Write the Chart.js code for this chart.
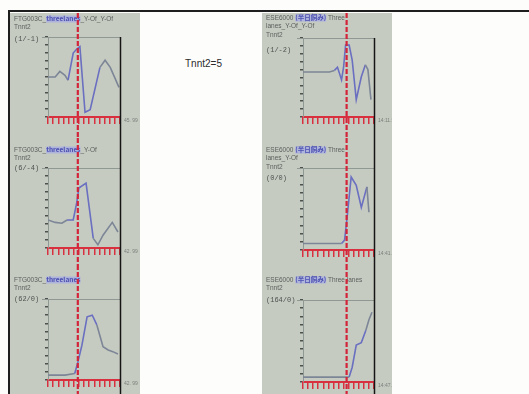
<!DOCTYPE html>
<html>
<head>
<meta charset="utf-8">
<script src="https://cdn.jsdelivr.net/npm/chart.js@4.4.1/dist/chart.umd.min.js"></script>
<style>
  body { margin: 0; width: 529px; height: 394px; overflow: hidden; position: relative; background: #fdfdfc; font-family: "Liberation Sans", Arial, sans-serif; }
  .frame { position: absolute; left: 8px; top: 10px; right: 0; bottom: 0; border-top: 2px solid #1e1e1e; border-left: 2px solid #1e1e1e; }
  .col { position: absolute; top: 13px; width: 130px; height: 381px; background: #c6cbc2; }
  .panel { position: absolute; width: 130px; }
  #note { position: absolute; left: 185px; top: 58px; font-size: 10px; color: #2c2c2c; }
</style>
</head>
<body>
<div class="frame"></div>
<div class="col" style="left:10px"></div>
<div class="col" style="left:262px"></div>
<div id="note">Tnnt2=5</div>

<div class="panel" style="left:10px;top:13px;height:125px"><canvas id="chartA"></canvas></div>
<div class="panel" style="left:10px;top:138px;height:127px"><canvas id="chartB"></canvas></div>
<div class="panel" style="left:10px;top:265px;height:129px"><canvas id="chartC"></canvas></div>
<div class="panel" style="left:262px;top:13px;height:125px"><canvas id="chartD"></canvas></div>
<div class="panel" style="left:262px;top:138px;height:127px"><canvas id="chartE"></canvas></div>
<div class="panel" style="left:262px;top:265px;height:129px"><canvas id="chartF"></canvas></div>

<script>
// time axis runs 0..14 in every panel, signal scaled 0..100
const xMax = 14;
const yMax = 100;

// event marker (red dashed line) per column
const eventLeft = 5.8;
const eventRight = 8.6;

// panel headers
const titlesA = [[["FTG003C_", false], ["threelanes", true], ["_Y-Of_Y-Of", false]], [["Tnnt2", false]]];
const titlesB = [[["FTG003C_", false], ["threelanes", true], ["_Y-Of", false]], [["Tnnt2", false]]];
const titlesC = [[["FTG003C_", false], ["threelanes", true]], [["Tnnt2", false]]];
const titlesD = [[["ESE6000 ", false], ["(半日飼み)", true], [" Three", false]], [["lanes_Y-Of_Y-Of", false]], [["Tnnt2", false]]];
const titlesE = [[["ESE6000 ", false], ["(半日飼み)", true], [" Three", false]], [["lanes_Y-Of", false]], [["Tnnt2", false]]];
const titlesF = [[["ESE6000 ", false], ["(半日飼み)", true], [" Three lanes", false]], [["Tnnt2", false]]];
const countLabels = ["(1/-1)", "(6/-4)", "(62/0)", "(1/-2)", "(0/0)", "(164/0)"];
const axisNotes = ["45. 99", "42. 99", "42. 99", "14:11.5", "14:41.75", "14:47.5"];

// series
const xA = [0, 1.4, 2.3, 3.3, 3.9, 4.9, 5.6, 6.2, 7.2, 8.2, 10.1, 11.1, 12.1, 13.0, 13.8];
const yA = [50, 50, 57, 52, 46, 80, 85, 88, 6, 9, 62, 71, 62, 49, 37];

const xB = [0, 1.4, 2.7, 3.7, 4.9, 5.6, 6.0, 7.4, 8.8, 9.7, 10.7, 12.5, 13.6];
const yB = [35, 32, 31, 35, 35, 57, 75, 81, 12, 4, 16, 32, 20];

const xC = [0, 1.4, 3.3, 5.2, 5.8, 6.6, 7.6, 8.6, 9.5, 10.7, 11.7, 12.6, 13.6];
const yC = [6, 6, 6, 8, 22, 43, 78, 80, 68, 41, 37, 35, 32];

const xD = [0, 1.9, 5.2, 6.2, 6.8, 7.6, 8.0, 8.4, 9.1, 9.7, 10.5, 11.5, 12.3, 12.8, 13.4];
const yD = [57, 57, 57, 59, 63, 47, 63, 91, 91, 72, 22, 51, 66, 60, 22];

const xE = [0, 7.6, 8.2, 8.75, 9.5, 10.5, 11.5, 12.6, 13.0];
const yE = [8, 8, 12, 43, 89, 79, 52, 77, 46];

const xF = [0, 9.1, 9.7, 10.5, 11.5, 12.4, 13.0, 13.6];
const yF = [6, 6, 18, 45, 48, 63, 76, 85];

const overlay = {
  id: "overlay",
  beforeDatasetsDraw(chart, args, o) {
    const ctx = chart.ctx;
    const a = chart.chartArea;
    ctx.save();
    // plot frame top edge
    ctx.strokeStyle = "#8f9892";
    ctx.lineWidth = 1;
    ctx.beginPath();
    ctx.moveTo(a.left - 6, a.top + 0.5);
    ctx.lineTo(a.right, a.top + 0.5);
    ctx.stroke();
    // header lines
    ctx.textBaseline = "middle";
    o.titles.forEach((line, i) => {
      let x = 4;
      const y = o.titleTop + i * 8.5;
      line.forEach(([t, hl]) => {
        ctx.font = hl ? "bold 6.5px 'Noto Sans CJK JP', 'Liberation Sans', sans-serif" : "6.5px 'Liberation Sans', 'Noto Sans CJK JP', sans-serif";
        const w = ctx.measureText(t).width;
        if (hl) {
          ctx.fillStyle = "#aeb3dc";
          ctx.fillRect(x, y - 3.5, w, 7);
          ctx.fillStyle = "#4b50b0";
        } else {
          ctx.fillStyle = "#5c605c";
        }
        ctx.fillText(t, x, y);
        x += w;
      });
    });
    ctx.font = "7px 'Liberation Mono', monospace";
    ctx.fillStyle = "#4e524e";
    ctx.fillText(o.count, 4, o.countY);
    ctx.font = "5px 'Liberation Sans', sans-serif";
    ctx.fillStyle = "#7a807a";
    ctx.fillText(o.note, a.right + 4, a.bottom + 4);
    ctx.restore();
  },
  afterDraw(chart, args, o) {
    const ctx = chart.ctx;
    const a = chart.chartArea;
    ctx.save();
    // black right-hand rule
    ctx.strokeStyle = "#151515";
    ctx.lineWidth = 1.5;
    ctx.beginPath();
    ctx.moveTo(a.right + 0.5, o.fromTop ? a.top : 0);
    ctx.lineTo(a.right + 0.5, chart.height);
    ctx.stroke();
    // red event marker
    const ex = chart.scales.x.getPixelForValue(o.event);
    ctx.strokeStyle = "#d3243a";
    ctx.lineWidth = 2.2;
    ctx.setLineDash([5, 2]);
    ctx.beginPath();
    ctx.moveTo(ex, 0);
    ctx.lineTo(ex, chart.height);
    ctx.stroke();
    ctx.restore();
  }
};

function makePanel(id, xs, ys, ev, titles, idx, pad, titleTop, countY, fromTop) {
  const points = xs.map((x, i) => ({ x: x, y: ys[i] }));
  return new Chart(document.getElementById(id), {
    type: "line",
    data: {
      datasets: [{
        data: points,
        borderColor: "#7c8696",
        borderWidth: 1.6,
        pointRadius: 0,
        tension: 0,
        segment: {
          borderColor: (c) => (c.p0.parsed.x > ev - 2.5 && c.p0.parsed.x < ev + 3) ? "#6a6fc0" : "#7c8696"
        }
      }]
    },
    options: {
      responsive: true,
      maintainAspectRatio: false,
      animation: false,
      layout: { padding: pad },
      plugins: {
        legend: { display: false },
        tooltip: { enabled: false },
        overlay: { titles: titles, count: countLabels[idx], note: axisNotes[idx], event: ev, titleTop: titleTop, countY: countY, fromTop: fromTop }
      },
      scales: {
        x: {
          type: "linear",
          min: 0,
          max: xMax,
          ticks: { stepSize: 1, display: false },
          grid: { drawOnChartArea: false, drawTicks: true, tickLength: 7, color: "#d8303e", lineWidth: 1.5 },
          border: { color: "#d8303e", width: 2 }
        },
        y: {
          min: 0,
          max: yMax,
          ticks: { stepSize: 10, display: false },
          grid: { drawOnChartArea: false, drawTicks: true, tickLength: 3, color: "#4d524e", lineWidth: 1.5 },
          border: { color: "#8f9892", width: 1 }
        }
      }
    },
    plugins: [overlay]
  });
}

makePanel("chartA", xA, yA, eventLeft, titlesA, 0, { left: 35, right: 20, top: 24, bottom: 14 }, 6, 26, true);
makePanel("chartB", xB, yB, eventLeft, titlesB, 1, { left: 35, right: 20, top: 30, bottom: 10 }, 12, 30, false);
makePanel("chartC", xC, yC, eventLeft, titlesC, 2, { left: 35, right: 20, top: 34, bottom: 7 }, 15, 34, false);
makePanel("chartD", xD, yD, eventRight, titlesD, 3, { left: 38, right: 18, top: 25, bottom: 14 }, 5, 37, true);
makePanel("chartE", xE, yE, eventRight, titlesE, 4, { left: 38, right: 18, top: 30, bottom: 8 }, 12, 40, false);
makePanel("chartF", xF, yF, eventRight, titlesF, 5, { left: 38, right: 18, top: 35, bottom: 5 }, 15, 35, false);
</script>
</body>
</html>
